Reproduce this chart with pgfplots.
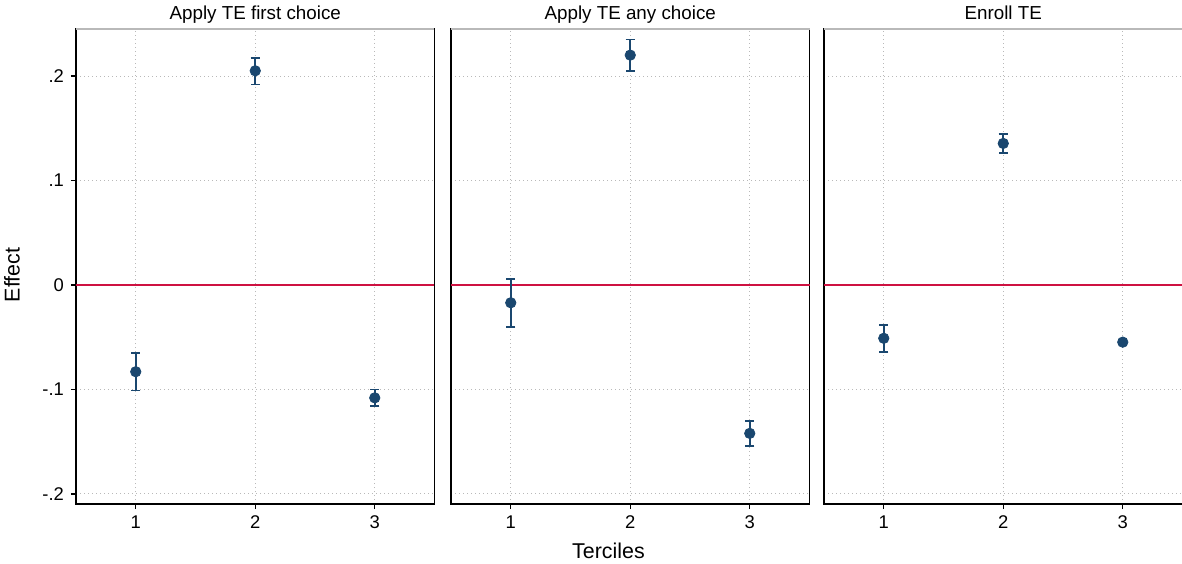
\documentclass[border=0pt]{standalone}
\usepackage{fontspec}
\setmainfont{Liberation Sans}
\usepackage{pgfplots}
\pgfplotsset{compat=1.18}
\usepackage{pgfplotstable}
\definecolor{stnavy}{RGB}{26,71,111}
\definecolor{zred}{RGB}{206,17,65}
\definecolor{gridc}{RGB}{185,185,185}
\definecolor{topc}{RGB}{185,185,185}

\pgfplotstableread{
x y ep em
1 -0.083 0.018 0.018
2 0.205 0.012 0.013
3 -0.108 0.008 0.008
}\tabA
\pgfplotstableread{
x y ep em
1 -0.017 0.0225 0.023
2 0.220 0.015 0.015
3 -0.142 0.012 0.012
}\tabB
\pgfplotstableread{
x y ep em
1 -0.051 0.013 0.013
2 0.1355 0.0093 0.0093
3 -0.0547 0.002 0.002
}\tabC

\pgfplotsset{
  every axis title/.style={at={(0.5,1)}, anchor=base, yshift=5pt,
    font=\fontsize{9.4}{11}\selectfont},
  panel/.style={
    scale only axis, width=179.25pt, height=237.5pt,
    anchor=south west,
    xmin=0.5, xmax=3.5, ymin=-0.2096, ymax=0.245,
    xtick={1,2,3}, xticklabels={1,2,3},
    ytick={-0.2,-0.1,0,0.1,0.2},
    grid=major,
    major grid style={gridc, line width=0.5pt, dash pattern=on 0.5pt off 1.5pt},
    axis line style={black, line width=0.7pt},
    tick align=outside, xtick pos=left, ytick pos=left,
    major tick length=2.5pt,
    tick style={black, line width=0.7pt},
    ticklabel style={font=\fontsize{9.2}{11}\selectfont},
    clip=false,
  },
  ebar/.style={
    only marks, mark=*, mark size=2.6pt, color=stnavy,
    error bars/.cd, y dir=both, y explicit, error mark=-,
    error bar style={line width=0.8pt, stnavy},
    error mark options={rotate=90, mark size=2.3pt, line width=0.8pt, stnavy},
  },
}

\newcommand{\panelbody}[1]{%
  \addplot[zred, line width=1pt] coordinates {(0.5,0) (3.5,0)};
  \addplot[ebar] table[x=x, y=y, y error plus=ep, y error minus=em]{#1};
  \draw[topc, line width=0.7pt] (rel axis cs:0,1) -- (rel axis cs:1,1);
}

\begin{document}
\begin{tikzpicture}
\useasboundingbox (0,0) rectangle (591pt,281.5pt);
\begin{axis}[panel, at={(38pt,29.5pt)}, title={Apply TE first choice},
  yticklabels={-.2,-.1,0,.1,.2}]
\panelbody{\tabA}
\end{axis}
\begin{axis}[panel, at={(225.5pt,29.5pt)}, title={Apply TE any choice},
  yticklabels={}, ytick style={draw=none}]
\panelbody{\tabB}
\end{axis}
\begin{axis}[panel, at={(412pt,29.5pt)}, title={Enroll TE},
  yticklabels={}, ytick style={draw=none}]
\panelbody{\tabC}
\end{axis}
\node[rotate=90, font=\fontsize{10.7}{12}\selectfont] at (6pt,144pt) {Effect};
\node[font=\fontsize{10.7}{12}\selectfont] at (304.25pt,6pt) {Terciles};
\end{tikzpicture}
\end{document}
